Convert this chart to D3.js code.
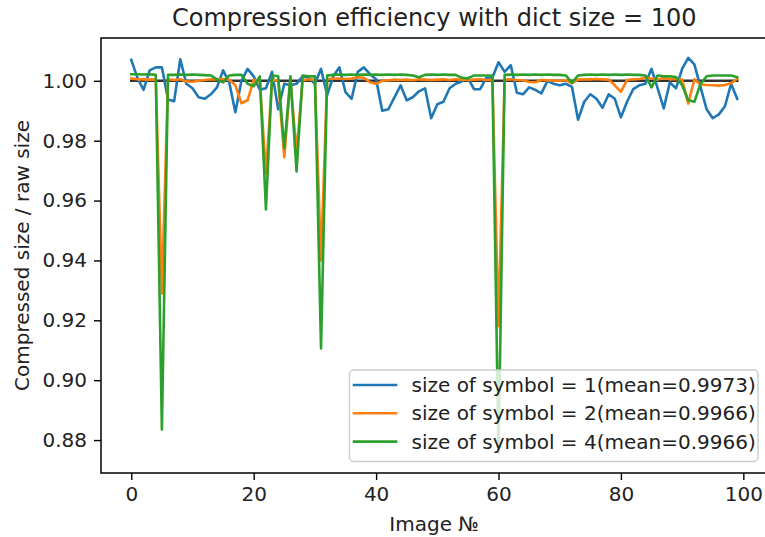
<!DOCTYPE html>
<html>
<head>
<meta charset="utf-8">
<script src="https://cdn.jsdelivr.net/npm/d3@7"></script>
<style>
  html, body { margin: 0; padding: 0; background: #fff; }
  svg { display: block; font-family: "DejaVu Sans", sans-serif; }
</style>
</head>
<body>
<svg id="chart" width="765" height="537"></svg>
<script>
// Compression ratio per image, one series per symbol size
const imageIndex = d3.range(100);

const ratioSymbol1 = [
  1.0070, 1.0010, 0.9970, 1.0035, 1.0045, 1.0045, 0.9938, 0.9932, 1.0072, 0.9990,
  0.9975, 0.9945, 0.9940, 0.9955, 0.9978, 1.0035, 0.9995, 0.9895, 1.0000, 1.0040,
  1.0015, 0.9970, 0.9975, 1.0030, 0.9905, 0.9990, 0.9985, 0.9990, 1.0015, 1.0010,
  0.9990, 1.0040, 0.9952, 1.0015, 1.0045, 0.9962, 0.9940, 1.0030, 1.0045, 1.0022,
  1.0005, 0.9900, 0.9905, 0.9945, 0.9985, 0.9935, 0.9945, 0.9965, 0.9975, 0.9875,
  0.9922, 0.9930, 0.9975, 0.9990, 0.9998, 1.0010, 0.9972, 0.9972, 1.0010, 1.0010,
  1.0062, 1.0030, 1.0052, 0.9960, 0.9955, 0.9978, 0.9970, 0.9958, 1.0000, 0.9990,
  0.9985, 0.9990, 0.9980, 0.9870, 0.9930, 0.9955, 0.9940, 0.9910, 0.9955, 0.9940,
  0.9878, 0.9930, 0.9972, 0.9985, 0.9990, 1.0040, 0.9975, 0.9908, 0.9995, 0.9975,
  1.0040, 1.0077, 1.0055, 0.9980, 0.9905, 0.9875, 0.9888, 0.9915, 0.9990, 0.9940
];

const ratioSymbol2 = [
  1.0008, 1.0005, 1.0005, 1.0004, 1.0005, 0.9290, 1.0005, 1.0003, 1.0005, 0.9998,
  0.9997, 1.0000, 1.0003, 1.0005, 1.0005, 1.0006, 1.0004, 0.9985, 0.9925, 0.9935,
  1.0003, 1.0000, 0.9690, 1.0003, 1.0000, 0.9745, 1.0003, 0.9760, 1.0002, 1.0005,
  1.0003, 0.9400, 1.0005, 1.0008, 1.0008, 1.0006, 1.0008, 1.0012, 1.0010, 0.9995,
  0.9990, 1.0000, 1.0002, 1.0004, 1.0003, 1.0004, 1.0002, 1.0005, 1.0004, 1.0003,
  1.0004, 1.0005, 1.0003, 1.0005, 1.0004, 1.0003, 1.0004, 1.0005, 1.0003, 1.0004,
  0.9180, 1.0004, 1.0005, 1.0003, 1.0002, 0.9996, 0.9995, 1.0003, 1.0002, 1.0000,
  1.0000, 1.0002, 0.9992, 1.0004, 1.0005, 1.0005, 1.0006, 1.0005, 1.0004, 0.9985,
  0.9963, 1.0003, 1.0005, 1.0006, 1.0010, 1.0008, 1.0004, 1.0010, 1.0005, 1.0006,
  1.0004, 0.9924, 1.0005, 0.9988, 0.9986, 0.9985, 0.9984, 0.9986, 0.9992, 1.0007
];

const ratioSymbol4 = [
  1.0022, 1.0022, 1.0021, 1.0022, 1.0020, 0.8835, 1.0020, 1.0020, 1.0021, 1.0020,
  1.0021, 1.0020, 1.0019, 1.0018, 1.0005, 0.9995, 1.0018, 1.0020, 1.0020, 0.9990,
  0.9982, 1.0015, 0.9570, 1.0018, 1.0015, 0.9775, 1.0015, 0.9697, 1.0018, 1.0015,
  1.0015, 0.9106, 1.0018, 1.0020, 1.0021, 1.0020, 1.0021, 1.0020, 1.0021, 1.0020,
  1.0021, 1.0020, 1.0021, 1.0020, 1.0021, 1.0020, 1.0018, 1.0012, 1.0020, 1.0021,
  1.0020, 1.0021, 1.0020, 1.0020, 1.0010, 1.0008, 1.0018, 1.0018, 1.0018, 1.0018,
  0.8756, 1.0020, 1.0021, 1.0020, 1.0021, 1.0020, 1.0021, 1.0020, 1.0021, 1.0020,
  1.0020, 1.0018, 0.9993, 1.0018, 1.0020, 1.0021, 1.0020, 1.0021, 1.0020, 1.0021,
  1.0020, 1.0021, 1.0020, 1.0020, 1.0018, 0.9978, 1.0018, 1.0015, 1.0015, 1.0013,
  0.9985, 0.9935, 0.9930, 0.9990, 1.0015, 1.0018, 1.0018, 1.0018, 1.0018, 1.0012
];

// Reference line at ratio 1 (no compression gain)
const baselineX = [0, 99];
const baselineY = [1, 1];

const seriesNames = [
  "size of symbol = 1(mean=0.9973)",
  "size of symbol = 2(mean=0.9966)",
  "size of symbol = 4(mean=0.9966)"
];
const seriesColors = ["#1f77b4", "#ff7f0e", "#2ca02c"];

const xTickValues = [0, 20, 40, 60, 80, 100];
const yTickValues = [0.88, 0.90, 0.92, 0.94, 0.96, 0.98, 1.00];

const titleText = "Compression efficiency with dict size = 100";
const xLabelText = "Image №";
const yLabelText = "Compressed size / raw size";

// ---------------------------------------------------------------
const svg = d3.select("#chart");
const plot = { left: 101, right: 767.5, top: 38, bottom: 473 };

const allSeries = [ratioSymbol1, ratioSymbol2, ratioSymbol4];

// x: data extent padded by 5% on each side
const xExt = d3.extent(imageIndex);
const xPad = (xExt[1] - xExt[0]) * 0.05;
const x = d3.scaleLinear()
  .domain([xExt[0] - xPad, xExt[1] + xPad])
  .range([plot.left, plot.right]);

// y: extent over every series padded by 5%
const yMin = d3.min(allSeries, s => d3.min(s));
const yMax = d3.max(allSeries, s => d3.max(s));
const yPad = (yMax - yMin) * 0.05;
const y = d3.scaleLinear()
  .domain([yMin - yPad, yMax + yPad])
  .range([plot.bottom, plot.top]);

const clipId = "plot-clip";
svg.append("defs").append("clipPath").attr("id", clipId)
  .append("rect")
  .attr("x", plot.left).attr("y", plot.top)
  .attr("width", plot.right - plot.left).attr("height", plot.bottom - plot.top);

const lines = svg.append("g").attr("clip-path", `url(#${clipId})`);

const line = d3.line()
  .x((d, i) => x(imageIndex[i]))
  .y(d => y(d));

// baseline first so the series sit on top of it
lines.append("path")
  .datum(baselineY)
  .attr("d", d3.line().x((d, i) => x(baselineX[i])).y(d => y(d)))
  .attr("fill", "none")
  .attr("stroke", "#000")
  .attr("stroke-opacity", 0.8)
  .attr("stroke-width", 2.6)
  .attr("stroke-linecap", "square");

allSeries.forEach((s, k) => {
  lines.append("path")
    .datum(s)
    .attr("d", line)
    .attr("fill", "none")
    .attr("stroke", seriesColors[k])
    .attr("stroke-width", 2.6)
    .attr("stroke-linejoin", "round")
    .attr("stroke-linecap", "square");
});

// axes
const xAxis = svg.append("g")
  .attr("transform", `translate(0,${plot.bottom})`)
  .call(d3.axisBottom(x).tickValues(xTickValues).tickFormat(d3.format("d"))
    .tickSize(7).tickPadding(7).tickSizeOuter(0));
const yAxis = svg.append("g")
  .attr("transform", `translate(${plot.left},0)`)
  .call(d3.axisLeft(y).tickValues(yTickValues).tickFormat(d3.format(".2f"))
    .tickSize(7).tickPadding(7).tickSizeOuter(0));

[xAxis, yAxis].forEach(g => {
  g.select(".domain").remove();
  g.selectAll(".tick line").attr("stroke", "#000").attr("stroke-width", 1.4);
  g.selectAll(".tick text")
    .attr("fill", "#222")
    .style("font-size", "20px")
    .style("font-family", "DejaVu Sans");
});

// spines
svg.append("rect")
  .attr("x", plot.left).attr("y", plot.top)
  .attr("width", plot.right - plot.left).attr("height", plot.bottom - plot.top)
  .attr("fill", "none")
  .attr("stroke", "#000")
  .attr("stroke-width", 1.5);

// title and axis labels
svg.append("text")
  .attr("x", (plot.left + plot.right) / 2).attr("y", 26)
  .attr("text-anchor", "middle")
  .attr("fill", "#222")
  .style("font-size", "24px")
  .text(titleText);

svg.append("text")
  .attr("x", (plot.left + plot.right) / 2).attr("y", 531)
  .attr("text-anchor", "middle")
  .attr("fill", "#222")
  .style("font-size", "20px")
  .text(xLabelText);

svg.append("text")
  .attr("transform", `translate(29,${(plot.top + plot.bottom) / 2}) rotate(-90)`)
  .attr("text-anchor", "middle")
  .attr("fill", "#222")
  .style("font-size", "20px")
  .text(yLabelText);

// legend, lower right
const legend = svg.append("g");
const lg = { x: 349.5, y: 370, w: 408.5, h: 91.5, rowY: 385, rowGap: 28.3 };
legend.append("rect")
  .attr("x", lg.x).attr("y", lg.y)
  .attr("width", lg.w).attr("height", lg.h)
  .attr("rx", 4).attr("ry", 4)
  .attr("fill", "#fff").attr("fill-opacity", 0.8)
  .attr("stroke", "#cccccc").attr("stroke-width", 1.4);

seriesNames.forEach((name, k) => {
  const cy = lg.rowY + k * lg.rowGap;
  legend.append("line")
    .attr("x1", 354).attr("x2", 396)
    .attr("y1", cy).attr("y2", cy)
    .attr("stroke", seriesColors[k])
    .attr("stroke-width", 2.6)
    .attr("stroke-linecap", "square");
  legend.append("text")
    .attr("x", 411.5).attr("y", cy + 7)
    .attr("fill", "#222")
    .style("font-size", "20px")
    .text(name);
});
</script>
</body>
</html>
